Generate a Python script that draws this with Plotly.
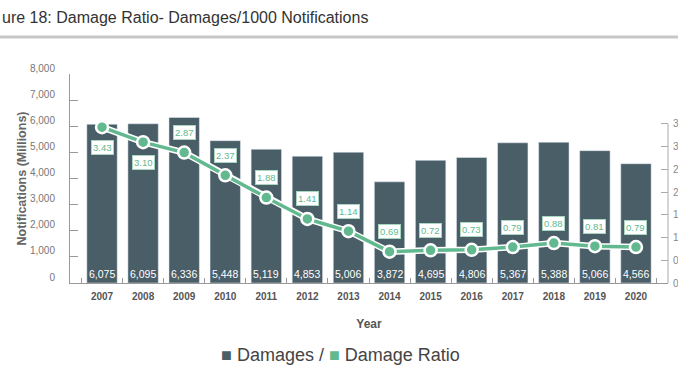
import plotly.graph_objects as go

years = ["2007", "2008", "2009", "2010", "2011", "2012", "2013",
         "2014", "2015", "2016", "2017", "2018", "2019", "2020"]
damages = [6075, 6095, 6336, 5448, 5119, 4853, 5006,
           3872, 4695, 4806, 5367, 5388, 5066, 4566]
ratio = [3.43, 3.10, 2.87, 2.37, 1.88, 1.41, 1.14,
         0.69, 0.72, 0.73, 0.79, 0.88, 0.81, 0.79]
left_ticks = [0, 1000, 2000, 3000, 4000, 5000, 6000, 7000, 8000]
right_ticks = [0, 0.5, 1.0, 1.5, 2.0, 2.5, 3.0, 3.5]

BAR = "#4a5e68"
GREEN = "#62b990"
FONT = "Liberation Sans, Arial, sans-serif"

W, H = 678, 381
L, R, T, B = 70, 10, 74, 98
PW, PH = W - L - R, H - T - B


def px_x(p):
    return (p - L) / PW


def px_y(p):
    return (H - B - p) / PH


x = list(range(len(years)))

fig = go.Figure()
fig.add_trace(go.Bar(x=x, y=damages, marker_color=BAR, name="Damages",
                     showlegend=False, hoverinfo="skip"))
fig.add_trace(go.Scatter(x=x, y=ratio, yaxis="y2", mode="lines",
                         line=dict(color="white", width=6.5), showlegend=False,
                         hoverinfo="skip"))
fig.add_trace(go.Scatter(x=x, y=ratio, yaxis="y2", mode="lines+markers",
                         line=dict(color=GREEN, width=3.5),
                         marker=dict(size=12, color=GREEN,
                                     line=dict(color="white", width=2.5)),
                         name="Damage Ratio", showlegend=False))

ann = []
for i, (d, r) in enumerate(zip(damages, ratio)):
    ann.append(dict(x=i, y=0, xref="x", yref="y", text=f"{d:,}",
                    showarrow=False, yanchor="bottom", yshift=1,
                    font=dict(color="white", size=10.5, family=FONT)))
    shift = -20 if i < 2 else 20
    ann.append(dict(x=i, y=r, xref="x", yref="y2", text=f"{r:.2f}",
                    showarrow=False, yshift=shift,
                    font=dict(color=GREEN, size=9.5, family=FONT),
                    bgcolor="white", bordercolor="#a9d6c0", borderwidth=1,
                    borderpad=1))

ann.append(dict(x=px_x(0), y=px_y(18), xref="paper", yref="paper",
                xanchor="left", yanchor="middle", showarrow=False,
                text="ure 18: Damage Ratio- Damages/1000 Notifications",
                font=dict(size=16, color="#333333", family=FONT)))
ann.append(dict(x=px_x(340), y=px_y(355), xref="paper", yref="paper",
                xanchor="center", yanchor="middle", showarrow=False,
                text=f'<span style="color:{BAR}">■</span> Damages / '
                     f'<span style="color:{GREEN}">■</span> Damage Ratio',
                font=dict(size=18, color="#444444", family=FONT)))

fig.update_layout(
    width=W, height=H,
    margin=dict(l=L, r=R, t=T, b=B),
    paper_bgcolor="white", plot_bgcolor="white",
    bargap=0.26,
    font=dict(family=FONT),
    xaxis=dict(range=[-0.78, 13.78], tickvals=x,
               ticktext=[f"<b>{y}</b>" for y in years],
               automargin=False, ticklabelstandoff=4,
               showgrid=False, zeroline=False, showline=True,
               linecolor="#999999", linewidth=1, ticks="",
               tickfont=dict(size=10, color="#555555"),
               minor=dict(tick0=0.5, dtick=1, ticks="inside", ticklen=5,
                          tickcolor="#999999", showgrid=False),
               title=dict(text="<b>Year</b>", standoff=18,
                          font=dict(size=12, color="#555555"))),
    yaxis=dict(range=[0, 8000], tickvals=left_ticks,
               ticktext=[f"{v:,}" for v in left_ticks],
               automargin=False,
               showgrid=False, zeroline=False, showline=True,
               linecolor="#999999", ticks="inside", ticklen=8,
               tickcolor="#999999", ticklabelshift=-6, ticklabelstandoff=12,
               tickfont=dict(size=10, color="#777777"),
               title=dict(text="<b>Notifications (Millions)</b>", standoff=0,
                          font=dict(size=12.5, color="#666666"))),
    yaxis2=dict(range=[0, 4.6], overlaying="y", side="right",
                automargin=False, ticklabelstandoff=4,
                tickvals=right_ticks, ticktext=[f"{v:.1f}" for v in right_ticks],
                showgrid=False, zeroline=False, showline=False,
                ticks="inside", ticklen=7, tickcolor="#aaaaaa",
                tickfont=dict(size=10, color="#888888")),
    annotations=ann,
    shapes=[
        dict(type="line", xref="paper", yref="paper", x0=px_x(-5), x1=px_x(W + 5),
             y0=px_y(37), y1=px_y(37),
             line=dict(color="#c8c8c8", width=3)),
        dict(type="line", xref="paper", yref="y2", x0=1, x1=1, y0=0, y1=3.5,
             line=dict(color="#aaaaaa", width=1)),
    ],
)

fig.write_html("out.html",
               config={"displayModeBar": False},
               post_script="document.body.style.margin='0';"
                           "document.body.style.overflow='hidden';")
